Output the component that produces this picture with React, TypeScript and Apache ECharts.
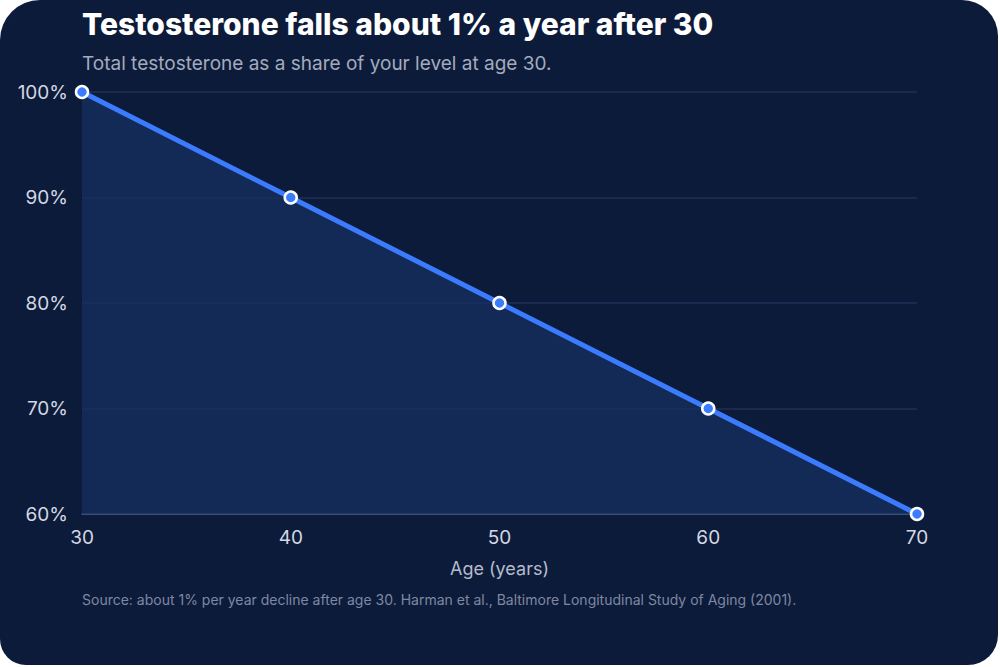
import { useEffect, useRef } from 'react'
import * as echarts from 'echarts'

const ages = [30, 40, 50, 60, 70]
const levels = [100, 90, 80, 70, 60]

const titleText = 'Testosterone falls about 1% a year after 30'
const subtitleText = 'Total testosterone as a share of your level at age 30.'
const sourceText = 'Source: about 1% per year decline after age 30. Harman et al., Baltimore Longitudinal Study of Aging (2001).'

export default function App() {
  const chartRef = useRef<HTMLDivElement>(null)

  useEffect(() => {
    if (!chartRef.current) return
    const chart = echarts.init(chartRef.current, null, { renderer: 'svg' })

    const option: echarts.EChartsOption = {
      animation: false,
      backgroundColor: 'transparent',
      textStyle: { fontFamily: 'Inter' },
      title: [
        {
          text: titleText,
          left: 82,
          top: 9,
          padding: 0,
          textStyle: { color: '#ffffff', fontSize: 30, fontWeight: 800, fontFamily: 'Inter' }
        },
        {
          text: subtitleText,
          left: 82,
          top: 54,
          padding: 0,
          textStyle: { color: '#a3abbd', fontSize: 19, fontWeight: 400, fontFamily: 'Inter' }
        }
      ],
      grid: { left: 82, right: 83, top: 92, bottom: 153 },
      xAxis: {
        type: 'value',
        min: 30,
        max: 70,
        interval: 10,
        name: 'Age (years)',
        nameLocation: 'middle',
        nameGap: 45,
        nameTextStyle: { color: '#b4bccc', fontSize: 18, fontFamily: 'Inter' },
        axisLine: { show: true, lineStyle: { color: '#4a5b80', width: 1.5 } },
        axisTick: { show: false },
        splitLine: { show: false },
        axisLabel: { color: '#d3d8e2', fontSize: 19, margin: 14, fontFamily: 'Inter' }
      },
      yAxis: {
        type: 'value',
        min: 60,
        max: 100,
        interval: 10,
        axisLine: { show: false },
        axisTick: { show: false },
        splitLine: { lineStyle: { color: '#1f3156', width: 1.5 } },
        axisLabel: { color: '#d3d8e2', fontSize: 19, margin: 14, formatter: '{value}%', fontFamily: 'Inter' }
      },
      graphic: [
        {
          type: 'text',
          left: 82,
          top: 592,
          style: { text: sourceText, fill: '#7d88a3', fontSize: 14, fontFamily: 'Inter' }
        }
      ],
      series: [
        {
          type: 'line',
          data: ages.map((a, i) => [a, levels[i]]),
          lineStyle: { color: '#3b7cff', width: 5 },
          areaStyle: { color: '#172f63', origin: 'start' },
          symbol: 'circle',
          symbolSize: 12,
          itemStyle: { color: '#3b7cff', borderColor: '#ffffff', borderWidth: 2.5 },
          z: 3
        }
      ]
    }

    chart.setOption(option)
    return () => {
      chart.dispose()
    }
  }, [])

  return (
    <div style={{ position: 'fixed', left: 0, top: 0, width: 1000, height: 667, background: '#ffffff' }}>
      <div
        style={{
          position: 'absolute',
          left: 0,
          top: 0,
          width: 998,
          height: 665,
          background: '#0d1b3a',
          borderRadius: '40px 36px 30px 26px',
          overflow: 'hidden'
        }}
      >
        <div ref={chartRef} style={{ width: 1000, height: 667 }} />
      </div>
    </div>
  )
}
